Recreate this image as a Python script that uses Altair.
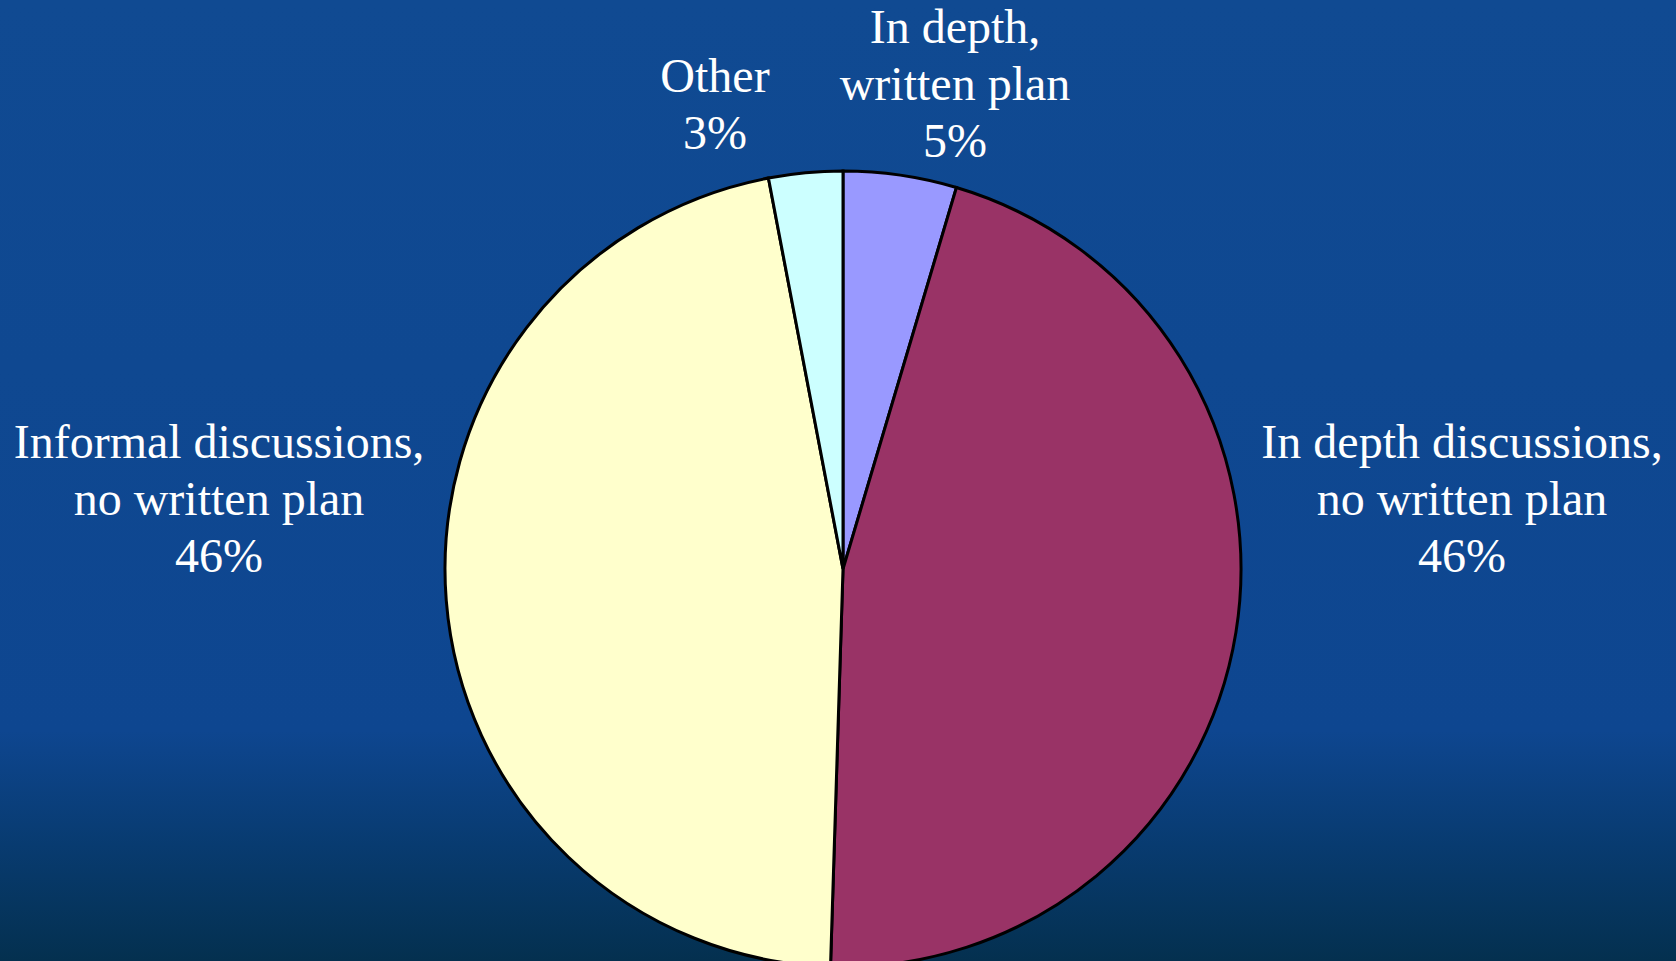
import altair as alt
import pandas as pd

W, H = 1676, 961

categories = ["In depth, written plan", "In depth discussions, no written plan",
              "Informal discussions, no written plan", "Other"]
values = [4.6, 45.9, 46.5, 3.0]
pct_labels = ["5%", "46%", "46%", "3%"]
colors = ["#9999FF", "#993366", "#FFFFCC", "#CCFFFF"]
label_lines = [
    ["In depth,", "written plan"],
    ["In depth discussions,", "no written plan"],
    ["Informal discussions,", "no written plan"],
    ["Other"],
]

df = pd.DataFrame({
    "category": categories,
    "value": values,
    "idx": list(range(len(categories))),
})

bg = alt.Chart(alt.Data(values=[{}])).mark_rect(
    color=alt.Gradient(
        gradient="linear",
        stops=[
            alt.GradientStop(color="#104a92", offset=0),
            alt.GradientStop(color="#0e4690", offset=0.76),
            alt.GradientStop(color="#083b70", offset=0.88),
            alt.GradientStop(color="#04304f", offset=1),
        ],
        x1=0, x2=0, y1=0, y2=1,
    )
).encode(x=alt.value(0), x2=alt.value(W), y=alt.value(0), y2=alt.value(H))

cx, cy, R = 843, 569, 398

arcs = alt.Chart(df).mark_arc(outerRadius=R, stroke="black", strokeWidth=3).encode(
    theta=alt.Theta("value:Q", stack=True),
    color=alt.Color("category:N", scale=alt.Scale(domain=categories, range=colors), legend=None),
    order=alt.Order("idx:Q"),
    x=alt.value(cx),
    y=alt.value(cy),
)

# label anchors: (center x, first-line baseline y)
anchors = [(955, 43), (1462, 458), (219, 458), (715, 92)]

texts = []
for lines, pct, (ax, ay) in zip(label_lines, pct_labels, anchors):
    t = "\n".join(lines + [pct])
    texts.append(
        alt.Chart(alt.Data(values=[{"t": t}])).mark_text(
            font="Liberation Serif", fontSize=48, color="white",
            lineBreak="\n", lineHeight=57, align="center", baseline="alphabetic",
        ).encode(text="t:N", x=alt.value(ax), y=alt.value(ay))
    )

chart = alt.layer(bg, arcs, *texts).properties(
    width=W, height=H, padding=0,
    autosize=alt.AutoSizeParams(type="none"),
    background="#0e4690",
).configure_view(stroke=None)

chart.save("out.html", embed_options={"renderer": "svg", "actions": False})
